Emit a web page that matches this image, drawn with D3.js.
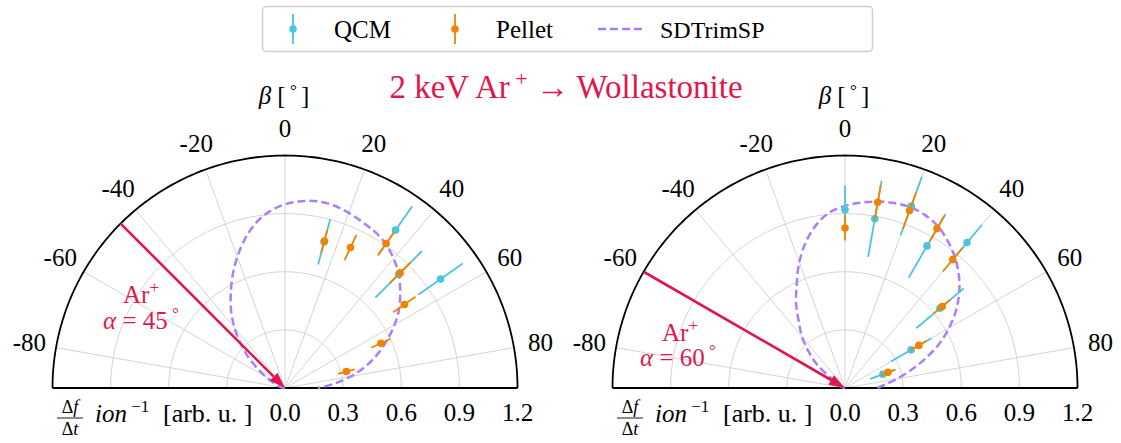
<!DOCTYPE html>
<html><head><meta charset="utf-8">
<script src="https://cdn.jsdelivr.net/npm/d3@7"></script>
<style>
body{margin:0;background:#fff}
svg{display:block}
</style>
</head><body>
<svg id="c" width="1121" height="443" font-family="'Liberation Serif','Times New Roman','DejaVu Serif',serif"></svg>
<script>
// ---------- data ----------
const thetaTicks = [-80,-60,-40,-20,0,20,40,60,80];
const rTicks = [0,0.3,0.6,0.9,1.2];
const rTickLabels = ["0.0","0.3","0.6","0.9","1.2"];
const seriesNames = ["QCM","Pellet","SDTrimSP"];

// SDTrimSP simulation (beta in degrees, r in arb. u.)
const simBeta = [-90,-85,-80,-75,-70,-65,-60,-55,-50,-45,-40,-35,-30,-25,-20,-15,-10,-5,0,5,10,15,20,25,30,35,40,45,50,55,60,65,70,75,80,85,90];
const simR45  = [0,0.005,0.01,0.025,0.045,0.07,0.11,0.17,0.245,0.325,0.405,0.485,0.56,0.64,0.72,0.797,0.865,0.915,0.948,0.968,0.978,0.975,0.962,0.945,0.93,0.907,0.872,0.83,0.776,0.72,0.653,0.58,0.507,0.43,0.345,0.255,0.17];
const simR60  = [0,0.003,0.006,0.01,0.015,0.025,0.04,0.085,0.19,0.265,0.345,0.415,0.505,0.59,0.69,0.78,0.855,0.91,0.94,0.96,0.977,0.988,0.992,0.983,0.962,0.925,0.882,0.83,0.77,0.70,0.62,0.535,0.44,0.35,0.27,0.21,0.164];

// alpha = 45 deg
const qcmBeta45 = [15,35,45,55];
const qcmR45    = [0.78,0.995,0.83,0.98];
const qcmErr45  = [0.12,0.15,0.17,0.14];
const pelBeta45 = [15,25,35,45,55,65,75];
const pelR45    = [0.785,0.80,0.91,0.84,0.752,0.546,0.328];
const pelErr45  = [0.062,0.072,0.075,0.075,0.07,0.055,0.045];

// alpha = 60 deg
const qcmBeta60 = [0,10,20,30,40,50,60,70];
const qcmR60    = [0.92,0.887,1.0,0.847,0.98,0.64,0.394,0.208];
const qcmErr60  = [0.125,0.2,0.16,0.19,0.12,0.16,0.12,0.07];
const pelBeta60 = [0,10,20,30,40,50,60,70];
const pelR60    = [0.826,0.973,0.975,0.95,0.865,0.655,0.44,0.236];
const pelErr60  = [0.065,0.09,0.1,0.075,0.08,0.055,0.05,0.04];

const alphas = [45,60];

// ---------- style ----------
const C_QCM = "#4cc3e2", C_PEL = "#f08300", C_SIM = "#a97ffb", C_RED = "#e0174d";
const svg = d3.select("#c");
const FS = 25;

const rScale = d3.scaleLinear().domain([0,1.2]).range([0,232.5]);
const rad = d => d*Math.PI/180;

function zip(b,r,e){ return b.map((v,i)=>({b:v,r:r[i],e:e?e[i]:0})); }

const panels = [
  {cx:285, alpha:alphas[0], sim:simR45, qcm:zip(qcmBeta45,qcmR45,qcmErr45), pel:zip(pelBeta45,pelR45,pelErr45), txt:[141,141], ty:[303,329]},
  {cx:845, alpha:alphas[1], sim:simR60, qcm:zip(qcmBeta60,qcmR60,qcmErr60), pel:zip(pelBeta60,pelR60,pelErr60), txt:[680,678], ty:[341,366]}
];
const cy = 388;

panels.forEach((p,pi)=>{
  const g = svg.append("g").attr("transform",`translate(${p.cx},${cy})`);
  const arcPts = d3.range(-90,90.01,1);
  const arcLine = rv => d3.lineRadial().angle(a=>rad(a)).radius(()=>rScale(rv))(arcPts);
  rTicks.filter(v=>v>0 && v<1.2).forEach(v=>{
    g.append("path").attr("d",arcLine(v)).attr("fill","none").attr("stroke","#d4d4d4").attr("stroke-width",1);
  });
  thetaTicks.forEach(t=>{
    const [x,y] = d3.pointRadial(rad(t), rScale(1.2));
    g.append("line").attr("x1",0).attr("y1",0).attr("x2",x).attr("y2",y)
      .attr("stroke","#d4d4d4").attr("stroke-width",1);
  });
  g.append("path").attr("d",arcLine(1.2)).attr("fill","none").attr("stroke","#000").attr("stroke-width",1.8);
  g.append("line").attr("x1",-rScale(1.2)).attr("x2",rScale(1.2)).attr("y1",0).attr("y2",0)
    .attr("stroke","#000").attr("stroke-width",1.8);

  thetaTicks.forEach(t=>{
    const [x,y] = d3.pointRadial(rad(t), rScale(1.2)+27);
    g.append("text").attr("x",x).attr("y",y+8).attr("text-anchor","middle")
      .attr("font-size",FS).text(t);
  });
  rTicks.forEach((v,i)=>{
    g.append("text").attr("x",rScale(v)).attr("y",33).attr("text-anchor","middle")
      .attr("font-size",FS).text(rTickLabels[i]);
  });

  const simData = simBeta.map((b,i)=>({b, r:p.sim[i]}));
  g.append("path").attr("d", d3.lineRadial().angle(d=>rad(d.b)).radius(d=>rScale(d.r)).curve(d3.curveCatmullRom)(simData))
    .attr("fill","none").attr("stroke",C_SIM).attr("stroke-width",2.5).attr("stroke-dasharray","8,4");

  function drawSeries(data,color){
    data.forEach(d=>{
      const [x1,y1] = d3.pointRadial(rad(d.b), rScale(d.r-d.e));
      const [x2,y2] = d3.pointRadial(rad(d.b), rScale(d.r+d.e));
      g.append("line").attr("x1",x1).attr("y1",y1).attr("x2",x2).attr("y2",y2)
        .attr("stroke",color).attr("stroke-width",1.8);
    });
    data.forEach(d=>{
      const [x,y] = d3.pointRadial(rad(d.b), rScale(d.r));
      g.append("circle").attr("cx",x).attr("cy",y).attr("r",3.8).attr("fill",color);
    });
  }
  drawSeries(p.qcm,C_QCM);
  drawSeries(p.pel,C_PEL);

  const a = rad(-p.alpha);
  const [sx,sy] = d3.pointRadial(a, rScale(1.2));
  const L = Math.hypot(sx,sy), ux = -sx/L, uy = -sy/L;
  const headL = 16, headW = 5.5;
  const bx = -ux*headL, by = -uy*headL;
  g.append("line").attr("x1",sx).attr("y1",sy).attr("x2",bx).attr("y2",by)
    .attr("stroke",C_RED).attr("stroke-width",2.6);
  g.append("path").attr("d",`M0,0 L${bx - uy*headW},${by + ux*headW} L${bx + uy*headW},${by - ux*headW}Z`)
    .attr("fill",C_RED);

  const t1 = svg.append("text").attr("x",p.txt[0]).attr("y",p.ty[0]).attr("text-anchor","middle")
    .attr("font-size",FS).attr("fill",C_RED);
  t1.append("tspan").text("Ar");
  t1.append("tspan").attr("dy",-10).attr("font-size",17).text("+");
  const t2 = svg.append("text").attr("x",p.txt[1]).attr("y",p.ty[1]).attr("text-anchor","middle")
    .attr("font-size",FS).attr("fill",C_RED);
  t2.append("tspan").attr("font-style","italic").text("α");
  t2.append("tspan").text(" = " + p.alpha);
  t2.append("tspan").attr("dy",-10).attr("font-size",17).text(" °");

  const bl = svg.append("text").attr("x",p.cx-1).attr("y",104).attr("text-anchor","middle").attr("font-size",FS);
  bl.append("tspan").attr("font-style","italic").text("β");
  bl.append("tspan").text(" [");
  bl.append("tspan").attr("dy",-8).attr("font-size",17).text(" ° ");
  bl.append("tspan").attr("dy",8).text("]");

  const lx = p.cx - 285;
  const fr = svg.append("g").attr("transform",`translate(${lx},0)`);
  const num = fr.append("text").attr("x",70).attr("y",413).attr("text-anchor","middle").attr("font-size",18);
  num.append("tspan").text("Δ"); num.append("tspan").attr("font-style","italic").text("f");
  fr.append("line").attr("x1",57).attr("x2",83).attr("y1",418).attr("y2",418).attr("stroke","#000").attr("stroke-width",0.9);
  const den = fr.append("text").attr("x",70).attr("y",435).attr("text-anchor","middle").attr("font-size",18);
  den.append("tspan").text("Δ"); den.append("tspan").attr("font-style","italic").text("t");
  const ion = fr.append("text").attr("x",95).attr("y",422).attr("font-size",FS);
  ion.append("tspan").attr("font-style","italic").text("ion");
  ion.append("tspan").attr("dy",-10).attr("font-size",17).text(" −1");
  fr.append("text").attr("x",163).attr("y",422).attr("font-size",26).text("[arb. u. ]");
});

const title = svg.append("text").attr("x",566).attr("y",98).attr("text-anchor","middle").attr("font-size",33).attr("fill",C_RED);
title.append("tspan").text("2 keV Ar");
title.append("tspan").attr("dy",-12).attr("font-size",22).text(" +");
title.append("tspan").attr("dy",12).text(" → Wollastonite");

const lg = svg.append("g");
lg.append("rect").attr("x",262.5).attr("y",6.5).attr("width",610).attr("height",45).attr("rx",4)
  .attr("fill","#fff").attr("stroke","#cfcfcf").attr("stroke-width",1.5);
const legItems = [
  {name:seriesNames[0], color:C_QCM, type:"err", mx:293, tx:334},
  {name:seriesNames[1], color:C_PEL, type:"err", mx:455, tx:496},
  {name:seriesNames[2], color:C_SIM, type:"dash", mx:620, tx:660}
];
legItems.forEach(it=>{
  if(it.type==="err"){
    lg.append("line").attr("x1",it.mx).attr("x2",it.mx).attr("y1",14).attr("y2",44).attr("stroke",it.color).attr("stroke-width",1.8);
    lg.append("circle").attr("cx",it.mx).attr("cy",29).attr("r",3.8).attr("fill",it.color);
  } else {
    lg.append("line").attr("x1",it.mx-22).attr("x2",it.mx+22).attr("y1",29).attr("y2",29)
      .attr("stroke",it.color).attr("stroke-width",2.5).attr("stroke-dasharray","8,4");
  }
  lg.append("text").attr("x",it.tx).attr("y",38).attr("font-size",it.type==="dash"?24:FS).text(it.name);
});
</script>
</body></html>
